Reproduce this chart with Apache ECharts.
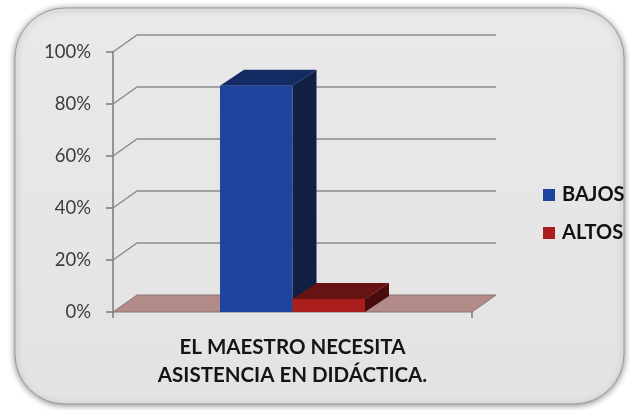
<!DOCTYPE html>
<html>
<head>
<meta charset="utf-8">
<style>
  html, body { margin: 0; padding: 0; background: #ffffff; }
  #chart { width: 630px; height: 410px; }
</style>
<script src="https://cdn.jsdelivr.net/npm/echarts@6/dist/echarts.min.js"></script>
</head>
<body>
<div id="chart"></div>
<script>
// Survey result: share of answers per level
const categories = ['EL MAESTRO NECESITA\nASISTENCIA EN DIDÁCTICA.'];
const seriesNames = ['BAJOS', 'ALTOS'];
const bajosValues = [87];
const altosValues = [5];
const yTicks = [0, 20, 40, 60, 80, 100];

// 3D look: depth offsets for the walls/floor and for the columns
const WALL_DX = 24, WALL_DY = -17;
const BAR_DX = 24, BAR_DY = -16;
const BAR_FRAC = 0.202; // column width as share of the category band

const palette = {
  BAJOS: { front: '#1f449e', top: '#142a63', side: '#101f42' },
  ALTOS: { front: '#aa1e1e', top: '#661313', side: '#4a0d0d' }
};

function boxRenderer(seriesIndex, colors) {
  return function (params, api) {
    const cat = api.value(0);
    const val = api.value(1);
    const base = api.coord([cat, 0]);
    const top = api.coord([cat, val]);
    const band = api.size([1, 0])[0];
    const w = band * BAR_FRAC;
    const x0 = base[0] + (seriesIndex === 0 ? -w : 0);
    const x1 = x0 + w;
    const yb = base[1], yt = top[1];
    return {
      type: 'group',
      children: [
        { type: 'polygon', shape: { points: [[x1, yt], [x1 + BAR_DX, yt + BAR_DY], [x1 + BAR_DX, yb + BAR_DY], [x1, yb]] },
          style: { fill: colors.side } },
        { type: 'polygon', shape: { points: [[x0, yt], [x1, yt], [x1 + BAR_DX, yt + BAR_DY], [x0 + BAR_DX, yt + BAR_DY]] },
          style: { fill: colors.top } },
        { type: 'rect', shape: { x: x0, y: yt, width: w, height: yb - yt },
          style: { fill: colors.front } }
      ]
    };
  };
}

function wallRenderer(params, api) {
  const cs = params.coordSys;
  const v = api.value(0);
  const y = api.coord([0, v])[1];
  const gx = cs.x, gw = cs.width;
  if (v === 0) {
    return {
      type: 'polygon',
      shape: { points: [[gx, y], [gx + gw, y], [gx + gw + WALL_DX, y + WALL_DY], [gx + WALL_DX, y + WALL_DY]] },
      style: { fill: '#b38b89', stroke: '#8a7472', lineWidth: 1 }
    };
  }
  return {
    type: 'polyline',
    shape: { points: [[gx, y], [gx + WALL_DX, y + WALL_DY], [gx + gw + WALL_DX, y + WALL_DY]] },
    style: { fill: null, stroke: '#8c8c8c', lineWidth: 1.5 }
  };
}

const chart = echarts.init(document.getElementById('chart'), null, { renderer: 'canvas' });

chart.setOption({
  backgroundColor: '#ffffff',
  animation: false,
  graphic: [{
    type: 'rect',
    z: -10,
    shape: { x: 15, y: 8, width: 609, height: 396, r: 50 },
    style: {
      fill: new echarts.graphic.LinearGradient(0, 0, 0, 1, [
        { offset: 0, color: '#e9e9e9' },
        { offset: 1, color: '#e3e3e3' }
      ]),
      stroke: '#9a9a9a',
      lineWidth: 1,
      shadowBlur: 6,
      shadowColor: 'rgba(0,0,0,0.45)',
      shadowOffsetX: 0,
      shadowOffsetY: 1
    }
  }],
  grid: { left: 113, right: 158, top: 52, bottom: 98, containLabel: false },
  legend: {
    orient: 'vertical',
    left: 538,
    top: 180,
    itemWidth: 12,
    itemHeight: 12,
    itemGap: 18,
    icon: 'rect',
    data: seriesNames,
    textStyle: { fontFamily: 'Lato', fontWeight: 'bold', fontSize: 20, color: '#111111', lineHeight: 20, padding: [0, 0, 0, 2] }
  },
  xAxis: {
    type: 'category',
    data: categories,
    boundaryGap: true,
    axisLine: { show: false },
    axisTick: { show: true, length: 6, lineStyle: { color: '#7a7a7a', width: 1.5 } },
    axisLabel: {
      margin: 21,
      fontFamily: 'Lato',
      fontWeight: 'bold',
      fontSize: 20.5,
      lineHeight: 28,
      color: '#141414'
    }
  },
  yAxis: {
    type: 'value',
    min: 0,
    max: 100,
    interval: 20,
    splitLine: { show: false },
    axisLine: { show: true, lineStyle: { color: '#7a7a7a', width: 1.5 } },
    axisTick: { show: true, length: 7, lineStyle: { color: '#7a7a7a', width: 1.5 } },
    axisLabel: {
      margin: 22,
      formatter: '{value}%',
      fontFamily: 'Lato',
      fontSize: 18.5,
      color: '#3c3c3c'
    }
  },
  series: [
    {
      name: 'walls',
      type: 'custom',
      z: 1,
      silent: true,
      renderItem: wallRenderer,
      encode: { y: 0 },
      data: yTicks.map(v => [v])
    },
    {
      name: seriesNames[0],
      type: 'custom',
      z: 2,
      itemStyle: { color: palette.BAJOS.front },
      renderItem: boxRenderer(0, palette.BAJOS),
      encode: { x: 0, y: 1 },
      data: bajosValues.map((v, i) => [i, v])
    },
    {
      name: seriesNames[1],
      type: 'custom',
      z: 3,
      itemStyle: { color: palette.ALTOS.front },
      renderItem: boxRenderer(1, palette.ALTOS),
      encode: { x: 0, y: 1 },
      data: altosValues.map((v, i) => [i, v])
    }
  ]
});
</script>
</body>
</html>
